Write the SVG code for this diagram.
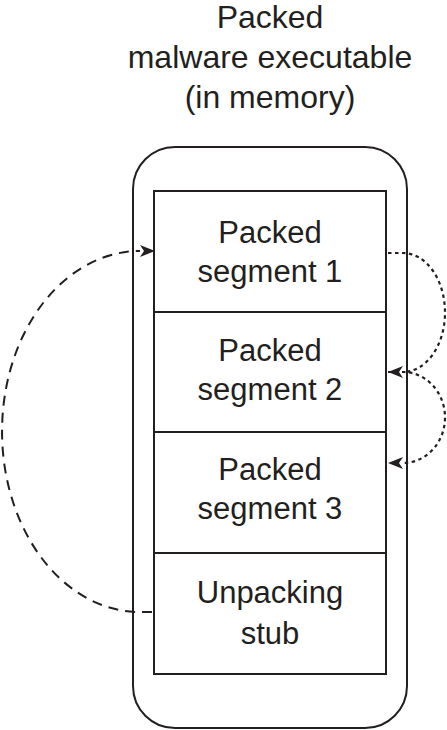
<svg xmlns="http://www.w3.org/2000/svg" width="447" height="730" viewBox="0 0 447 730">
<style>
text{font-family:"Liberation Sans","DejaVu Sans",sans-serif;font-size:31px;fill:#231f20;text-anchor:middle}
.title{font-size:32px}
.box{fill:none;stroke:#231f20;stroke-width:2}
.dash{fill:none;stroke:#231f20;stroke-width:2;stroke-dasharray:10 7}
.dot{fill:none;stroke:#231f20;stroke-width:2.2;stroke-dasharray:3.5 3.5}
</style>
<defs>
<marker id="ah" markerUnits="userSpaceOnUse" markerWidth="16" markerHeight="12" refX="0" refY="6" orient="auto">
<path d="M0,0 L15,6 L0,12 L4,6 Z" fill="#231f20"/>
</marker>
</defs>
<rect width="447" height="730" fill="#fff"/>
<g id="title">
<text class="title" x="270" y="28">Packed</text>
<text class="title" x="270" y="68">malware executable</text>
<text class="title" x="270" y="108">(in memory)</text>
</g>
<g id="container"><rect class="box" x="133" y="147" width="274" height="581" rx="42"/></g>
<g id="seg1"><rect class="box" x="154" y="191" width="232" height="121"/>
<text x="270" y="243">Packed</text><text x="270" y="282">segment 1</text></g>
<g id="seg2"><rect class="box" x="154" y="312" width="232" height="120"/>
<text x="270" y="361">Packed</text><text x="270" y="400">segment 2</text></g>
<g id="seg3"><rect class="box" x="154" y="432" width="232" height="121"/>
<text x="270" y="480">Packed</text><text x="270" y="519">segment 3</text></g>
<g id="stub"><rect class="box" x="154" y="553" width="232" height="121"/>
<text x="270" y="603">Unpacking</text><text x="270" y="644">stub</text></g>
<g id="connectors">
<path class="dash" d="M152,612 L140,612 A138,180.5 0 0 1 140,251" marker-end="url(#ah)"/>
<path class="dot" d="M388,253 L403,253 A42,59.5 0 0 1 403,372" marker-end="url(#ah)"/>
<path class="dot" d="M388,372 L403,372 A42,45.5 0 0 1 403,463" marker-end="url(#ah)"/>
</g>
</svg>
